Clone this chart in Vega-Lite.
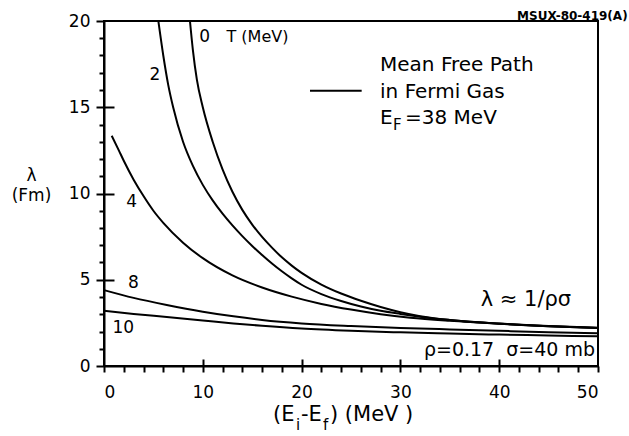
{
  "$schema": "https://vega.github.io/schema/vega-lite/v6.json",
  "autosize": "none",
  "width": 494,
  "height": 345,
  "padding": {"left": 104, "top": 21, "right": 31, "bottom": 70},
  "background": "white",
  "view": {"stroke": "black", "strokeWidth": 2},
  "config": {
    "font": "DejaVu Sans",
    "axis": {"grid": false, "domainColor": "black", "domainWidth": 2, "tickColor": "black", "tickWidth": 2, "labelColor": "black", "labelFont": "DejaVu Sans", "titleColor": "black", "titleFont": "DejaVu Sans", "titleFontWeight": "normal"},
    "text": {"color": "black", "font": "DejaVu Sans"}
  },
  "resolve": {"axis": {"x": "independent", "y": "independent"}},
  "layer": [
    {
      "data": {"values": [
        {"T": 0, "E": 8.7, "lambda": 20},
        {"T": 0, "E": 9.0, "lambda": 18.3},
        {"T": 0, "E": 9.4, "lambda": 16.6},
        {"T": 0, "E": 10, "lambda": 15.0},
        {"T": 0, "E": 11, "lambda": 13.0},
        {"T": 0, "E": 12, "lambda": 11.4},
        {"T": 0, "E": 13, "lambda": 10.1},
        {"T": 0, "E": 14, "lambda": 9.05},
        {"T": 0, "E": 15, "lambda": 8.2},
        {"T": 0, "E": 16, "lambda": 7.48},
        {"T": 0, "E": 17, "lambda": 6.86},
        {"T": 0, "E": 18, "lambda": 6.3},
        {"T": 0, "E": 19, "lambda": 5.82},
        {"T": 0, "E": 20, "lambda": 5.4},
        {"T": 0, "E": 22, "lambda": 4.72},
        {"T": 0, "E": 24, "lambda": 4.2},
        {"T": 0, "E": 26, "lambda": 3.78},
        {"T": 0, "E": 28, "lambda": 3.42},
        {"T": 0, "E": 30, "lambda": 3.12},
        {"T": 0, "E": 32, "lambda": 2.89},
        {"T": 0, "E": 35, "lambda": 2.67},
        {"T": 0, "E": 40, "lambda": 2.46},
        {"T": 0, "E": 45, "lambda": 2.32},
        {"T": 0, "E": 50, "lambda": 2.22},
        {"T": 2, "E": 5.5, "lambda": 20},
        {"T": 2, "E": 6.0, "lambda": 18.0},
        {"T": 2, "E": 6.5, "lambda": 16.3},
        {"T": 2, "E": 7, "lambda": 15.0},
        {"T": 2, "E": 8, "lambda": 13.0},
        {"T": 2, "E": 9, "lambda": 11.6},
        {"T": 2, "E": 10, "lambda": 10.5},
        {"T": 2, "E": 11, "lambda": 9.6},
        {"T": 2, "E": 12, "lambda": 8.83},
        {"T": 2, "E": 13, "lambda": 8.15},
        {"T": 2, "E": 14, "lambda": 7.53},
        {"T": 2, "E": 15, "lambda": 6.96},
        {"T": 2, "E": 16, "lambda": 6.43},
        {"T": 2, "E": 17, "lambda": 5.94},
        {"T": 2, "E": 18, "lambda": 5.49},
        {"T": 2, "E": 19, "lambda": 5.08},
        {"T": 2, "E": 20, "lambda": 4.71},
        {"T": 2, "E": 22, "lambda": 4.17},
        {"T": 2, "E": 24, "lambda": 3.77},
        {"T": 2, "E": 26, "lambda": 3.45},
        {"T": 2, "E": 28, "lambda": 3.2},
        {"T": 2, "E": 30, "lambda": 3.02},
        {"T": 2, "E": 32, "lambda": 2.86},
        {"T": 2, "E": 35, "lambda": 2.66},
        {"T": 2, "E": 40, "lambda": 2.45},
        {"T": 2, "E": 45, "lambda": 2.31},
        {"T": 2, "E": 50, "lambda": 2.21},
        {"T": 4, "E": 0.78, "lambda": 13.35},
        {"T": 4, "E": 1.5, "lambda": 12.5},
        {"T": 4, "E": 2, "lambda": 11.9},
        {"T": 4, "E": 3, "lambda": 10.8},
        {"T": 4, "E": 4, "lambda": 9.85},
        {"T": 4, "E": 5, "lambda": 9.0},
        {"T": 4, "E": 6, "lambda": 8.3},
        {"T": 4, "E": 8, "lambda": 7.15},
        {"T": 4, "E": 10, "lambda": 6.25},
        {"T": 4, "E": 13, "lambda": 5.25},
        {"T": 4, "E": 16, "lambda": 4.55},
        {"T": 4, "E": 19, "lambda": 4.02},
        {"T": 4, "E": 22, "lambda": 3.6},
        {"T": 4, "E": 25, "lambda": 3.27},
        {"T": 4, "E": 28, "lambda": 3.0},
        {"T": 4, "E": 31, "lambda": 2.8},
        {"T": 4, "E": 35, "lambda": 2.62},
        {"T": 4, "E": 40, "lambda": 2.45},
        {"T": 4, "E": 45, "lambda": 2.31},
        {"T": 4, "E": 50, "lambda": 2.2},
        {"T": 8, "E": 0, "lambda": 4.4},
        {"T": 8, "E": 3, "lambda": 3.95},
        {"T": 8, "E": 6.35, "lambda": 3.54},
        {"T": 8, "E": 10, "lambda": 3.15},
        {"T": 8, "E": 13.1, "lambda": 2.88},
        {"T": 8, "E": 16, "lambda": 2.67},
        {"T": 8, "E": 20, "lambda": 2.47},
        {"T": 8, "E": 25, "lambda": 2.32},
        {"T": 8, "E": 30, "lambda": 2.21},
        {"T": 8, "E": 35, "lambda": 2.12},
        {"T": 8, "E": 40, "lambda": 2.04},
        {"T": 8, "E": 45, "lambda": 1.96},
        {"T": 8, "E": 50, "lambda": 1.9},
        {"T": 10, "E": 0, "lambda": 3.2},
        {"T": 10, "E": 3, "lambda": 3.02},
        {"T": 10, "E": 6.35, "lambda": 2.84},
        {"T": 10, "E": 10, "lambda": 2.64},
        {"T": 10, "E": 13.1, "lambda": 2.47},
        {"T": 10, "E": 16, "lambda": 2.33},
        {"T": 10, "E": 20, "lambda": 2.17},
        {"T": 10, "E": 25, "lambda": 2.04},
        {"T": 10, "E": 30, "lambda": 1.95},
        {"T": 10, "E": 35, "lambda": 1.88},
        {"T": 10, "E": 40, "lambda": 1.82},
        {"T": 10, "E": 45, "lambda": 1.77},
        {"T": 10, "E": 50, "lambda": 1.72}
      ]},
      "mark": {"type": "line", "color": "black", "strokeWidth": 2, "interpolate": "monotone"},
      "encoding": {
        "x": {"field": "E", "type": "quantitative", "scale": {"domain": [0, 50], "nice": false},
              "axis": {"orient": "bottom", "values": [0, 10, 20, 30, 40, 50], "tickSize": 6, "labelFontSize": 17, "labelPadding": 12, "title": null}},
        "y": {"field": "lambda", "type": "quantitative", "scale": {"domain": [0, 20], "nice": false},
              "axis": {"orient": "left", "values": [0, 5, 10, 15, 20], "tickSize": 8, "labelFontSize": 17, "labelPadding": 6,
                       "title": ["λ", "(Fm)"], "titleAngle": 0, "titleFontSize": 17, "titleLineHeight": 20, "titleX": -73, "titleY": 159, "titleAlign": "center", "titleBaseline": "alphabetic"}},
        "detail": {"field": "T", "type": "nominal"}
      }
    },
    {
      "data": {"values": [{"x1": 20.85, "x2": 26.08, "y": 15.96}]},
      "mark": {"type": "rule", "color": "black", "strokeWidth": 2},
      "encoding": {
        "x": {"field": "x1", "type": "quantitative", "scale": {"domain": [0, 50], "nice": false},
              "axis": {"orient": "bottom", "values": [2, 4, 6, 8, 12, 14, 16, 18, 22, 24, 26, 28, 32, 34, 36, 38, 42, 44, 46, 48], "tickSize": 6, "labels": false, "domain": false, "title": null}},
        "x2": {"field": "x2"},
        "y": {"field": "y", "type": "quantitative", "scale": {"domain": [0, 20], "nice": false},
              "axis": {"orient": "left", "values": [1, 2, 3, 4, 6, 7, 8, 9, 11, 12, 13, 14, 16, 17, 18, 19], "tickSize": 5, "labels": false, "domain": false, "title": null}}
      }
    },
    {
      "data": {"values": [
        {"label": "0", "x": 10.2, "y": 19.1},
        {"label": "2", "x": 5.16, "y": 16.87},
        {"label": "4", "x": 2.8, "y": 9.53},
        {"label": "8", "x": 2.97, "y": 4.79},
        {"label": "10", "x": 1.96, "y": 2.18}
      ]},
      "mark": {"type": "text", "fontSize": 17, "align": "center", "baseline": "middle"},
      "encoding": {
        "x": {"field": "x", "type": "quantitative", "scale": {"domain": [0, 50], "nice": false},
              "axis": {"orient": "bottom", "values": [10, 20, 30, 40], "tickSize": -7, "labels": false, "domain": false, "title": null}},
        "y": {"field": "y", "type": "quantitative", "scale": {"domain": [0, 20], "nice": false},
              "axis": {"orient": "left", "values": [5, 10, 15], "tickSize": -10, "labels": false, "domain": false, "title": null}},
        "text": {"field": "label"}
      }
    },
    {
      "data": {"values": [
        {"label": "T (MeV)", "x": 12.4, "y": 19.1}
      ]},
      "mark": {"type": "text", "fontSize": 16, "align": "left", "baseline": "middle"},
      "encoding": {
        "x": {"field": "x", "type": "quantitative", "scale": {"domain": [0, 50], "nice": false}, "axis": null},
        "y": {"field": "y", "type": "quantitative", "scale": {"domain": [0, 20], "nice": false}, "axis": null},
        "text": {"field": "label"}
      }
    },
    {
      "data": {"values": [
        {"label": "Mean Free Path", "x": 27.94, "y": 17.45},
        {"label": "in Fermi Gas", "x": 27.94, "y": 15.88},
        {"label": "E", "x": 27.94, "y": 14.38},
        {"label": "=38 MeV", "x": 30.47, "y": 14.38}
      ]},
      "mark": {"type": "text", "fontSize": 20, "align": "left", "baseline": "middle"},
      "encoding": {
        "x": {"field": "x", "type": "quantitative", "scale": {"domain": [0, 50], "nice": false}, "axis": null},
        "y": {"field": "y", "type": "quantitative", "scale": {"domain": [0, 20], "nice": false}, "axis": null},
        "text": {"field": "label"}
      }
    },
    {
      "data": {"values": [
        {"label": "F", "x": 29.25, "y": 13.95},
        {"label": "i", "x": 19.43, "y": -3.4},
        {"label": "f", "x": 22.17, "y": -3.4}
      ]},
      "mark": {"type": "text", "fontSize": 15, "align": "left", "baseline": "middle"},
      "encoding": {
        "x": {"field": "x", "type": "quantitative", "scale": {"domain": [0, 50], "nice": false}, "axis": null},
        "y": {"field": "y", "type": "quantitative", "scale": {"domain": [0, 20], "nice": false}, "axis": null},
        "text": {"field": "label"}
      }
    },
    {
      "data": {"values": [
        {"label": "(E", "x": 17.11, "y": -2.84},
        {"label": "-E", "x": 19.94, "y": -2.84},
        {"label": ") (MeV )", "x": 22.87, "y": -2.84}
      ]},
      "mark": {"type": "text", "fontSize": 21, "align": "left", "baseline": "middle"},
      "encoding": {
        "x": {"field": "x", "type": "quantitative", "scale": {"domain": [0, 50], "nice": false}, "axis": null},
        "y": {"field": "y", "type": "quantitative", "scale": {"domain": [0, 20], "nice": false}, "axis": null},
        "text": {"field": "label"}
      }
    },
    {
      "data": {"values": [
        {"label": "λ ≈ 1/ρσ", "x": 42.7, "y": 3.83}
      ]},
      "mark": {"type": "text", "fontSize": 21, "align": "center", "baseline": "middle"},
      "encoding": {
        "x": {"field": "x", "type": "quantitative", "scale": {"domain": [0, 50], "nice": false}, "axis": null},
        "y": {"field": "y", "type": "quantitative", "scale": {"domain": [0, 20], "nice": false}, "axis": null},
        "text": {"field": "label"}
      }
    },
    {
      "data": {"values": [
        {"label": "ρ=0.17\u00a0\u00a0σ=40 mb", "x": 49.7, "y": 0.93}
      ]},
      "mark": {"type": "text", "fontSize": 19, "align": "right", "baseline": "middle"},
      "encoding": {
        "x": {"field": "x", "type": "quantitative", "scale": {"domain": [0, 50], "nice": false}, "axis": null},
        "y": {"field": "y", "type": "quantitative", "scale": {"domain": [0, 20], "nice": false}, "axis": null},
        "text": {"field": "label"}
      }
    },
    {
      "data": {"values": [
        {"label": "MSUX-80-419(A)", "x": 53.0, "y": 20.29}
      ]},
      "mark": {"type": "text", "fontSize": 12, "fontWeight": "bold", "align": "right", "baseline": "middle"},
      "encoding": {
        "x": {"field": "x", "type": "quantitative", "scale": {"domain": [0, 50], "nice": false}, "axis": null},
        "y": {"field": "y", "type": "quantitative", "scale": {"domain": [0, 20], "nice": false}, "axis": null},
        "text": {"field": "label"}
      }
    }
  ]
}
